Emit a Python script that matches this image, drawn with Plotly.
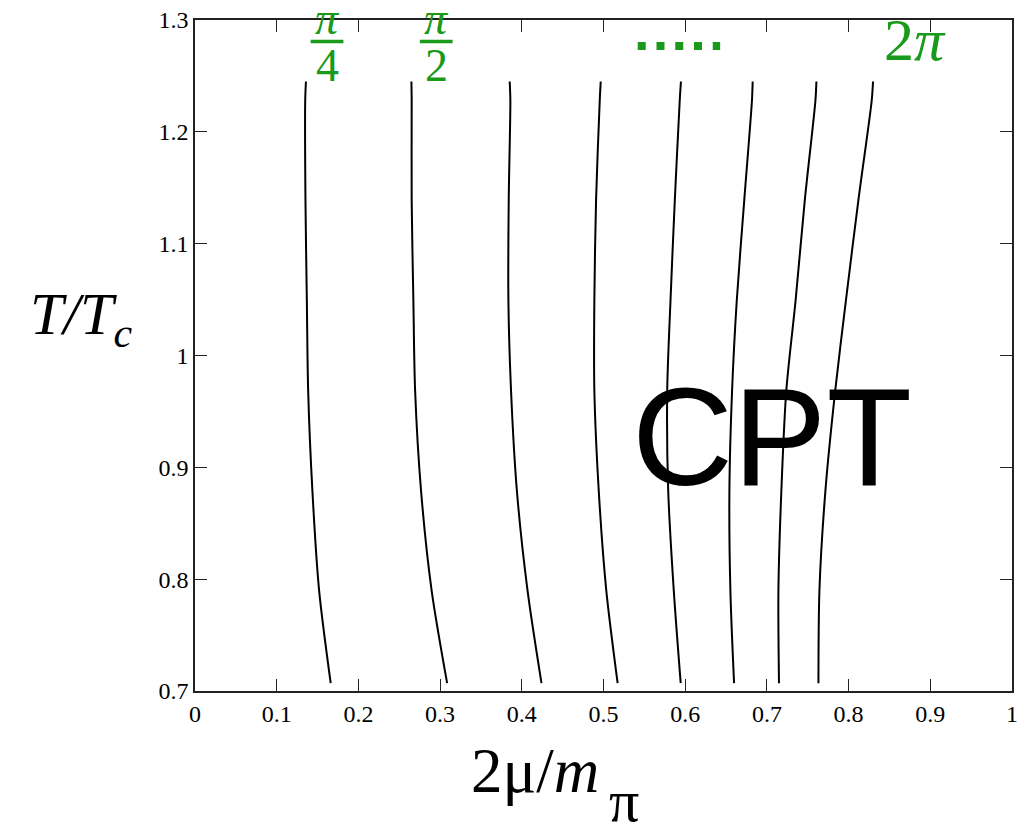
import plotly.graph_objects as go

# ---- data ----
T_levels = [1.245, 1.228, 1.139, 1.049, 0.969, 0.879, 0.790, 0.707]

curve_pi_over_4  = [0.1358, 0.1349, 0.1352, 0.1369, 0.1385, 0.1437, 0.1519, 0.1661]
curve_pi_over_2  = [0.2649, 0.2652, 0.2652, 0.2673, 0.2694, 0.2767, 0.2896, 0.3086]
curve_3pi_over_4 = [0.3852, 0.3860, 0.3840, 0.3836, 0.3868, 0.3940, 0.4070, 0.4241]
curve_pi         = [0.4966, 0.4954, 0.4909, 0.4888, 0.4888, 0.4942, 0.5034, 0.5173]
curve_5pi_over_4 = [0.5948, 0.5933, 0.5873, 0.5820, 0.5780, 0.5792, 0.5860, 0.5945]
curve_3pi_over_2 = [0.6826, 0.6817, 0.6723, 0.6631, 0.6574, 0.6541, 0.6553, 0.6598]
curve_7pi_over_4 = [0.7606, 0.7594, 0.7464, 0.7351, 0.7238, 0.7177, 0.7141, 0.7148]
curve_2pi        = [0.8299, 0.8283, 0.8120, 0.7967, 0.7837, 0.7716, 0.7643, 0.7631]

curves = [curve_pi_over_4, curve_pi_over_2, curve_3pi_over_4, curve_pi,
          curve_5pi_over_4, curve_3pi_over_2, curve_7pi_over_4, curve_2pi]
curve_names = ["π/4", "π/2", "3π/4", "π", "5π/4", "3π/2", "7π/4", "2π"]

x_tickvals = [0, 0.1, 0.2, 0.3, 0.4, 0.5, 0.6, 0.7, 0.8, 0.9, 1.0]
x_ticktext = ["0", "0.1", "0.2", "0.3", "0.4", "0.5", "0.6", "0.7", "0.8", "0.9", "1"]
y_tickvals = [0.7, 0.8, 0.9, 1.0, 1.1, 1.2, 1.3]
y_ticktext = ["0.7", "0.8", "0.9", "1", "1.1", "1.2", "1.3"]

# ---- layout geometry ----
W, H = 1025, 823
L, R, TOP, B = 195, 7, 20, 132
X0, X1 = 0.0, 1.0
Y0, Y1 = 0.7, 1.3
PW, PH = W - L - R, H - TOP - B

def paper_x(px):
    return (px - L) / PW

def paper_y(py):
    return (H - B - py) / PH

GREEN = "#1a9a1a"
SERIF = "Liberation Serif"

fig = go.Figure()
for xs, name in zip(curves, curve_names):
    fig.add_trace(go.Scatter(x=xs, y=T_levels, mode="lines", name=name,
                             line=dict(color="black", width=2, shape="spline", smoothing=0.8),
                             showlegend=False, hoverinfo="skip"))

axis_common = dict(showline=True, mirror="ticks", linecolor="#222", linewidth=1.5,
                   ticks="inside", ticklen=12, tickwidth=1.3, tickcolor="#222",
                   showgrid=False, zeroline=False,
                   tickfont=dict(family=SERIF, size=24, color="black"))

fig.update_xaxes(range=[X0, X1], tickvals=x_tickvals, ticktext=x_ticktext, **axis_common)
fig.update_yaxes(range=[Y0, Y1], tickvals=y_tickvals, ticktext=y_ticktext, **axis_common)

annotations = []
shapes = []

def label(px, py, text, size, color="black", family=SERIF):
    annotations.append(dict(x=paper_x(px), y=paper_y(py), xref="paper", yref="paper",
                            text=text, showarrow=False, xanchor="center", yanchor="middle",
                            font=dict(family=family, size=size, color=color)))

# fraction labels pi/4 and pi/2
for cx, den in [(328, "4"), (438, "2")]:
    label(cx, 19, "<i>π</i>", 46, GREEN)
    label(cx, 65, den, 46, GREEN)
    shapes.append(dict(type="line", xref="paper", yref="paper",
                       x0=paper_x(cx - 16.5), x1=paper_x(cx + 16.5),
                       y0=paper_y(41.5), y1=paper_y(41.5),
                       line=dict(color=GREEN, width=3.5)))

# dotted "....." marker
shapes.append(dict(type="line", xref="paper", yref="paper",
                   x0=paper_x(641), x1=paper_x(724), y0=paper_y(46), y1=paper_y(46),
                   line=dict(color=GREEN, width=8, dash="8px,10.75px")))

# 2pi label
label(920, 40, "2<i>π</i>", 60, GREEN)

# CPT
label(776, 437, "CPT", 140, "black", "Liberation Sans")

# axis titles
label(537, 771, "2μ/<i>m</i>", 63)
label(627, 801, "π", 60)
label(80, 318, "<i>T/T</i><sub><i>c</i></sub>", 60)

fig.update_layout(width=W, height=H, margin=dict(l=L, r=R, t=TOP, b=B),
                  plot_bgcolor="white", paper_bgcolor="white",
                  annotations=annotations, shapes=shapes)

fig.write_html("out.html")
